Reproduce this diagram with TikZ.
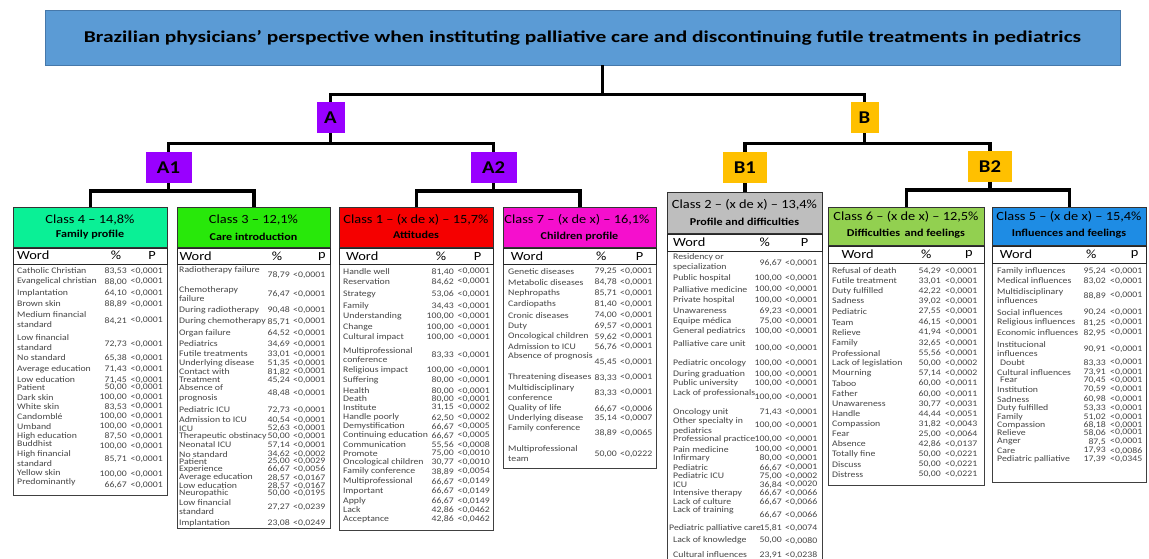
\documentclass[tikz,border=0pt]{standalone}
\usepackage{fontspec}
\setmainfont{Carlito}
\newfontfamily\sfont[FakeStretch=1.15]{Carlito}
\newfontfamily\tfont[FakeStretch=1.3]{Carlito}
\definecolor{titleblue}{RGB}{91,155,213}
\definecolor{titleedge}{RGB}{70,120,170}
\definecolor{purp}{RGB}{153,0,255}
\definecolor{amber}{RGB}{255,192,0}
\definecolor{cfour}{RGB}{10,240,150}
\definecolor{cthree}{RGB}{40,232,10}
\definecolor{cone}{RGB}{245,0,0}
\definecolor{cseven}{RGB}{245,15,205}
\definecolor{ctwo}{RGB}{190,190,190}
\definecolor{csix}{RGB}{146,208,80}
\definecolor{cfive}{RGB}{30,140,228}
\definecolor{rowtxt}{RGB}{70,70,70}
\newcommand\rowfnt{\sfont\fontsize{8.5}{9.8}\selectfont}
\tikzset{
  conn/.style={line width=3.5pt, black},
  lab/.style={draw=none, minimum width=28pt, minimum height=31pt, inner sep=0pt,
    font=\sfont\bfseries\fontsize{18}{18}\selectfont},
  frame/.style={draw=black!75, line width=1.3pt, fill=white, inner sep=0pt},
  hdr/.style={draw=black!80, line width=1pt, inner sep=0pt},
  wrow/.style={draw=black!85, line width=1.1pt, inner sep=0pt},
  htitle/.style={inner sep=0pt, font=\sfont\fontsize{12.5}{13}\selectfont},
  hsub/.style={inner sep=0pt, font=\sfont\bfseries\fontsize{10.5}{11}\selectfont},
  wordh/.style={inner sep=0pt, font=\sfont\fontsize{12.5}{13}\selectfont},
  wd/.style={anchor=west, align=left, inner sep=0pt, font=\rowfnt, text=rowtxt},
  pc/.style={anchor=east, inner sep=0pt, font=\rowfnt, text=rowtxt},
  pv/.style={anchor=west, inner sep=0pt, font=\rowfnt, text=rowtxt},
}
\newcommand\mkclass[8]{%
  \node[frame, minimum width=#4, minimum height=#5, anchor=north west] (#1) at (#2,#3) {};
  \node[hdr, fill=#8, minimum width=#4, minimum height=#6, anchor=north west] (#1h) at (#2,#3) {};
  \node[wrow, minimum width=#4, minimum height=#7, anchor=north west] (#1r) at (#1h.south west) {};
}
\newcommand\mkrows[5]{%
  \foreach \w/\y/\a/\b/\v [count=\i] in {#5}{%
    \node[wd] (#1w\i) at (#2,\y) {\w};
    \node[pc] (#1a\i) at (#3,\v) {\a};
    \node[pv] (#1b\i) at (#4,\v) {\b};
  }%
}
\begin{document}
\begin{tikzpicture}[x=1pt, y=-1pt]
\useasboundingbox (0,0) rectangle (1149,558);
\fill[white] (0,0) rectangle (1149,558);

% title
\node[draw=titleedge, line width=0.8pt, fill=titleblue, minimum width=1075pt, minimum height=55pt,
  inner sep=0pt, font=\tfont\bfseries\fontsize{16.5}{17}\selectfont] (title) at (582.5,37.5)
  {Brazilian physicians’ perspective when instituting palliative care and discontinuing futile treatments in pediatrics};

% labels
\node[lab, fill=purp] (A) at (330.5,117.5) {A};
\node[lab, fill=amber] (B) at (864.5,117.5) {B};
\node[lab, fill=purp, minimum width=46pt] (A1) at (168.5,167.2) {A1};
\node[lab, fill=purp, minimum width=46pt] (A2) at (493.6,167.2) {A2};
\node[lab, fill=amber, minimum width=44pt] (B1) at (744.8,167.7) {B1};
\node[lab, fill=amber, minimum width=44pt] (B2) at (990,166.2) {B2};

% class frames
\mkclass{c4}{13}{207}{154}{288}{40}{16}{cfour}
\mkclass{c3}{177}{207}{153}{321}{40}{16}{cthree}
\mkclass{c1}{339}{207}{154}{323}{40}{16}{cone}
\mkclass{c7}{503}{207}{153}{261}{40}{16}{cseven}
\mkclass{c2}{667}{192}{155}{380}{41}{17}{ctwo}
\mkclass{c6}{828}{207}{156}{278}{38}{17}{csix}
\mkclass{c5}{992}{207}{154}{275}{38}{17}{cfive}

% connectors
\draw[conn] ([xshift=20pt]title.south) -- ++(0,29.3) coordinate (tj);
\draw[conn] (A.north) |- (tj) -| (B.north);
\draw[conn] (A.south) -- ++(0,10.3) coordinate (aj);
\draw[conn] (A1.north) |- (aj) -| (A2.north);
\draw[conn] (B.south) -- ++(0,10.3) coordinate (bj);
\draw[conn] (B1.north) |- (bj) -| (B2.north);
\draw[conn] (A1.south) -- ++(0,8) coordinate (a1j);
\draw[conn] (c4.north) |- (a1j) -| (c3.north);
\draw[conn] (A2.south) -- ++(0,8) coordinate (a2j);
\draw[conn] (c1.north) |- (a2j) -| (c7.north);
\draw[conn] (B1.south) -- (B1.south |- c2.north);
\draw[conn] (B2.south) -- ++(0,8) coordinate (b2j);
\draw[conn] (c6.north) |- (b2j) -| (c5.north);

% headers
\node[htitle] (c4t) at (90,220) {Class 4 – 14,8\%};
\node[hsub] (c4s) at (90,235) {Family profile};
\node[htitle] (c3t) at (253.5,220) {Class 3 – 12,1\%};
\node[hsub] (c3s) at (253.5,236.5) {Care introduction};
\node[htitle] (c1t) at (416,220) {Class 1 – (x de x) – 15,7\%};
\node[hsub] (c1s) at (416,235) {Attitudes};
\node[htitle] (c7t) at (577,220) {Class 7 – (x de x) – 16,1\%};
\node[hsub] (c7s) at (579.5,236.5) {Children profile};
\node[htitle] (c2t) at (744.5,205) {Class 2 – (x de x) – 13,4\%};
\node[hsub] (c2s) at (744.5,221.5) {Profile and difficulties};
\node[htitle] (c6t) at (906,217) {Class 6 – (x de x) – 12,5\%};
\node[hsub] (c6s) at (906,233.3) {Difficulties\, and feelings};
\node[htitle] (c5t) at (1069,217) {Class 5 – (x de x) – 15,4\%};
\node[hsub] (c5s) at (1069,233.3) {Influences and feelings};

% word rows
\node[wordh, anchor=west] (c4wh) at (17,255.5) {Word};
\node[wordh] (c4ph) at (116,255.5) {\%};
\node[wordh] (c4qh) at (152,255.5) {P};
\node[wordh, anchor=west] (c3wh) at (179.3,256) {Word};
\node[wordh] (c3ph) at (277,256) {\%};
\node[wordh] (c3qh) at (322,256) {p};
\node[wordh, anchor=west] (c1wh) at (346,256) {Word};
\node[wordh] (c1ph) at (441,256) {\%};
\node[wordh] (c1qh) at (477.7,256) {P};
\node[wordh, anchor=west] (c7wh) at (510.7,256) {Word};
\node[wordh] (c7ph) at (601.3,256) {\%};
\node[wordh] (c7qh) at (639.7,256) {P};
\node[wordh, anchor=west] (c2wh) at (673,242.5) {Word};
\node[wordh] (c2ph) at (764.7,242.5) {\%};
\node[wordh] (c2qh) at (804.7,242.5) {P};
\node[wordh, anchor=west] (c6wh) at (841.3,254.5) {Word};
\node[wordh] (c6ph) at (926.3,254.5) {\%};
\node[wordh] (c6qh) at (969,254.5) {p};
\node[wordh, anchor=west] (c5wh) at (999.7,254) {Word};
\node[wordh] (c5ph) at (1091.3,254) {\%};
\node[wordh] (c5qh) at (1134.7,254) {p};

% rows class 4
\mkrows{c4}{17}{127}{130.5}{
{Catholic Christian}/271/{83,53}/{<0,0001}/271,
{Evangelical christian}/281.7/{88,00}/{<0,0001}/281.7,
{Implantation}/293/{64,10}/{<0,0001}/293,
{Brown skin}/304/{88,89}/{<0,0001}/304,
{Medium financial\\standard}/319.4/{84,21}/{<0,0001}/320.7,
{Low financial\\standard}/342.5/{72,73}/{<0,0001}/344,
{No standard}/358/{65,38}/{<0,0001}/358,
{Average education}/369/{71,43}/{<0,0001}/369,
{Low education}/380/{71,45}/{<0,0001}/380,
{Patient}/387.7/{50,00}/{<0,0001}/387.7,
{Dark skin}/398/{100,00}/{<0,0001}/397,
{White skin}/406.7/{83,53}/{<0,0001}/406.7,
{Candomblé}/416.7/{100,00}/{<0,0001}/416.7,
{Umband}/426.7/{100,00}/{<0,0001}/426.7,
{High education}/436/{87,50}/{<0,0001}/436.5,
{Buddhist}/444/{100,00}/{<0,0001}/446,
{High financial\\standard}/458.5/{85,71}/{<0,0001}/459,
{Yellow skin}/472.7/{100,00}/{<0,0001}/474,
{Predominantly}/482.7/{66,67}/{<0,0001}/485}

% rows class 3
\mkrows{c3}{179}{290}{293}{
{Radiotherapy failure}/270/{78,79}/{<0,0001}/275,
{Chemotherapy\\failure}/294/{76,47}/{<0,0001}/294.3,
{During radiotherapy}/310/{90,48}/{<0,0001}/310,
{During chemotherapy}/321.7/{85,71}/{<0,0001}/321.7,
{Organ failure}/333.3/{64,52}/{<0,0001}/333.3,
{Pediatrics}/344/{34,69}/{<0,0001}/344,
{Futile treatments}/354/{33,01}/{<0,0001}/354,
{Underlying disease}/363.3/{51,35}/{<0,0001}/363.3,
{Contact with}/371.7/{81,82}/{<0,0001}/371.7,
{Treatment}/380/{45,24}/{<0,0001}/380,
{Absence of\\prognosis}/393.3/{48,48}/{<0,0001}/393.3,
{Pediatric ICU}/410/{72,73}/{<0,0001}/410,
{Admission to ICU}/420/{40,54}/{<0,0001}/420,
{ICU}/428.3/{52,63}/{<0,0001}/428.3,
{Therapeutic obstinacy}/436.7/{50,00}/{<0,0001}/436.7,
{Neonatal ICU}/445/{57,14}/{<0,0001}/445,
{No standard}/454.3/{34,62}/{<0,0002}/454.3,
{Patient}/461.7/{25,00}/{<0,0029}/461.7,
{Experience}/469.3/{66,67}/{<0,0056}/469.3,
{Average education}/477.7/{28,57}/{<0,0167}/477.7,
{Low education}/485.7/{28,57}/{<0,0167}/485.7,
{Neuropathic}/493.3/{50,00}/{<0,0195}/493.3,
{Low financial\\standard}/507/{27,27}/{<0,0239}/507.3,
{Implantation}/523.3/{23,08}/{<0,0249}/523.3}

% rows class 1
\mkrows{c1}{343}{454}{457.5}{
{Handle well}/271.7/{81,40}/{<0,0001}/271.7,
{Reservation}/281.7/{84,62}/{<0,0001}/281.7,
{Strategy}/294.3/{53,06}/{<0,0001}/294.3,
{Family}/306/{34,43}/{<0,0001}/306,
{Understanding}/316.7/{100,00}/{<0,0001}/316.7,
{Change}/327.3/{100,00}/{<0,0001}/327.3,
{Cultural impact}/337.7/{100,00}/{<0,0001}/337.7,
{Multiprofessional\\conference}/355/{83,33}/{<0,0001}/355,
{Religious impact}/370/{100,00}/{<0,0001}/370,
{Suffering}/380/{80,00}/{<0,0001}/380,
{Health}/391/{80,00}/{<0,0001}/391,
{Death}/399/{80,00}/{<0,0001}/399,
{Institute}/407.7/{31,15}/{<0,0002}/407.7,
{Handle poorly}/417.7/{62,50}/{<0,0002}/417.7,
{Demystification}/426.7/{66,67}/{<0,0005}/426.7,
{Continuing education}/435.7/{66,67}/{<0,0005}/435.7,
{Communication}/445/{55,56}/{<0,0008}/445,
{Promote}/453.7/{75,00}/{<0,0010}/453.7,
{Oncological children}/462.3/{30,77}/{<0,0010}/462.3,
{Family conference}/471.7/{38,89}/{<0,0054}/471.7,
{Multiprofessional}/481.7/{66,67}/{<0,0149}/481.7,
{Important}/491/{66,67}/{<0,0149}/491,
{Apply}/501/{66,67}/{<0,0149}/501,
{Lack}/510/{42,86}/{<0,0462}/510,
{Acceptance}/519/{42,86}/{<0,0462}/519}

% rows class 7
\mkrows{c7}{508}{617}{620}{
{Genetic diseases}/271.7/{79,25}/{<0,0001}/271.7,
{Metabolic diseases}/282.3/{84,78}/{<0,0001}/282.3,
{Nephropaths}/293.3/{85,71}/{<0,0001}/293.3,
{Cardiopaths}/304.3/{81,40}/{<0,0001}/304.3,
{Cronic diseases}/315.3/{74,00}/{<0,0001}/315.3,
{Duty}/326/{69,57}/{<0,0001}/326,
{Oncological children}/336.7/{59,62}/{<0,0001}/336.7,
{Admission to ICU}/346.7/{56,76}/{<0,0001}/346.7,
{Absence of prognosis}/356.7/{45,45}/{<0,0001}/362.7,
{Threatening diseases}/377.7/{83,33}/{<0,0001}/377.7,
{Multidisciplinary\\conference}/392.5/{83,33}/{<0,0001}/392.7,
{Quality of life}/408.7/{66,67}/{<0,0006}/408.7,
{Underlying disease}/418.7/{35,14}/{<0,0007}/418.7,
{Family conference}/428.7/{38,89}/{<0,0065}/433.3,
{Multiprofessional\\team}/453.3/{50,00}/{<0,0222}/454}

% rows class 2
\mkrows{c2}{673}{782}{785}{
{Residency or\\specialization}/262.5/{96,67}/{<0,0001}/263.3,
{Public hospital}/278.3/{100,00}/{<0,0001}/278.3,
{Palliative medicine}/289.3/{100,00}/{<0,0001}/289.3,
{Private hospital}/300.3/{100,00}/{<0,0001}/300.3,
{Unawareness}/311/{69,23}/{<0,0001}/311,
{Equipe médica}/321.7/{75,00}/{<0,0001}/321.7,
{General pediatrics}/331.7/{100,00}/{<0,0001}/331.7,
{Palliative care unit}/343.3/{100,00}/{<0,0001}/348.3,
{Pediatric oncology}/363.3/{100,00}/{<0,0001}/363.3,
{During graduation}/374/{100,00}/{<0,0001}/374,
{Public university}/383.3/{100,00}/{<0,0001}/383.3,
{Lack of professionals}/393.3/{100,00}/{<0,0001}/397.7,
{Oncology unit}/412.3/{71,43}/{<0,0001}/412.3,
{Other specialty in\\pediatrics}/426.3/{100,00}/{<0,0001}/425.7,
{Professional practice}/439.3/{100,00}/{<0,0001}/439.3,
{Pain medicine}/449.3/{100,00}/{<0,0001}/449.3,
{Infirmary}/458.3/{80,00}/{<0,0001}/458.3,
{Pediatric}/467.7/{66,67}/{<0,0001}/467.7,
{Pediatric ICU}/476/{75,00}/{<0,0002}/476,
{ICU}/484.7/{36,84}/{<0,0020}/484.7,
{Intensive therapy}/493.3/{66,67}/{<0,0066}/493.3,
{Lack of culture}/502/{66,67}/{<0,0066}/502,
{Lack of training}/510/{66,67}/{<0,0066}/515,
{\hspace{-4pt}Pediatric palliative care}/528.3/{15,81}/{<0,0074}/528.3,
{Lack of knowledge}/540.7/{50,00}/{<0,0080}/540.7,
{Cultural influences}/555/{23,91}/{<0,0238}/555}

% rows class 6
\mkrows{c6}{832}{941}{945}{
{Refusal of death}/271/{54,29}/{<0,0001}/271,
{Futile treatment}/281/{33,01}/{<0,0001}/281,
{Duty fulfilled}/291/{42,22}/{<0,0001}/291,
{Sadness}/301/{39,02}/{<0,0001}/301,
{Pediatric}/311.7/{27,55}/{<0,0001}/311.7,
{Team}/322.3/{46,15}/{<0,0001}/322.3,
{Relieve}/332.7/{41,94}/{<0,0001}/332.7,
{Family}/343.3/{32,65}/{<0,0001}/343.3,
{Professional}/353.3/{55,56}/{<0,0001}/353.3,
{Lack of legislation}/363.3/{50,00}/{<0,0002}/363.3,
{Mourning}/373.3/{57,14}/{<0,0002}/373.3,
{Taboo}/383.3/{60,00}/{<0,0011}/383.3,
{Father}/394/{60,00}/{<0,0011}/394,
{Unawareness}/404/{30,77}/{<0,0031}/404,
{Handle}/414/{44,44}/{<0,0051}/414,
{Compassion}/424/{31,82}/{<0,0043}/424,
{Fear}/434/{25,00}/{<0,0064}/434,
{Absence}/444/{42,86}/{<0,0137}/444,
{Totally fine}/454.3/{50,00}/{<0,0221}/454.3,
{Discuss}/464.3/{50,00}/{<0,0221}/464.3,
{Distress}/474.3/{50,00}/{<0,0221}/474.3}

% rows class 5
\mkrows{c5}{997}{1106}{1110}{
{Family influences}/271/{95,24}/{<0,0001}/271,
{Medical influences}/281/{83,02}/{<0,0001}/281,
{Multidisciplinary\\influences}/296/{88,89}/{<0,0001}/295.7,
{Social influences}/312.3/{90,24}/{<0,0001}/312.3,
{Religious influences}/322.7/{81,25}/{<0,0001}/322.7,
{Economic influences}/332.7/{82,95}/{<0,0001}/332.7,
{Institucional\\influences}/349/{90,91}/{<0,0001}/349,
{\hspace{3pt}Doubt}/362.7/{83,33}/{<0,0001}/362.7,
{Cultural influences}/372.7/{73,91}/{<0,0001}/372.7,
{\hspace{3pt}Fear}/380/{70,45}/{<0,0001}/380,
{Institution}/389.3/{70,59}/{<0,0001}/389.3,
{Sadness}/399.3/{60,98}/{<0,0001}/399.3,
{Duty fulfilled}/408.3/{53,33}/{<0,0001}/408.3,
{Family}/417.3/{51,02}/{<0,0001}/417.3,
{Compassion}/425/{68,18}/{<0,0001}/425,
{Relieve}/432.7/{58,06}/{<0,0001}/432.7,
{Anger}/441.7/{87,5}/{<0,0001}/441.7,
{Care}/450.7/{17,93}/{<0,0086}/450.7,
{Pediatric palliative}/459.3/{17,39}/{<0,0345}/459.3}
\end{tikzpicture}
\end{document}
